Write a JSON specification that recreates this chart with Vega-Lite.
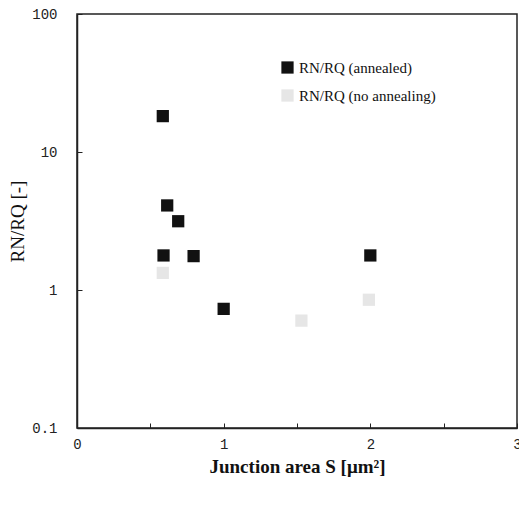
{
  "$schema": "https://vega.github.io/schema/vega-lite/v6.json",
  "autosize": {"type": "none"},
  "padding": {"left": 77, "top": 14, "right": 2, "bottom": 82},
  "width": 440,
  "height": 414,
  "background": "white",
  "config": {
    "view": {"stroke": "#222", "strokeWidth": 1.5},
    "axis": {"grid": false, "domainColor": "#222", "domainWidth": 1.5, "tickColor": "#222"}
  },
  "data": {
    "values": [
      {"S": 0.585, "ratio": 18.2, "series": "RN/RQ (annealed)"},
      {"S": 0.615, "ratio": 4.1, "series": "RN/RQ (annealed)"},
      {"S": 0.69, "ratio": 3.15, "series": "RN/RQ (annealed)"},
      {"S": 0.59, "ratio": 1.78, "series": "RN/RQ (annealed)"},
      {"S": 0.795, "ratio": 1.76, "series": "RN/RQ (annealed)"},
      {"S": 1.0, "ratio": 0.73, "series": "RN/RQ (annealed)"},
      {"S": 2.0, "ratio": 1.78, "series": "RN/RQ (annealed)"},
      {"S": 0.585, "ratio": 1.33, "series": "RN/RQ (no annealing)"},
      {"S": 1.53, "ratio": 0.6, "series": "RN/RQ (no annealing)"},
      {"S": 1.99, "ratio": 0.85, "series": "RN/RQ (no annealing)"}
    ]
  },
  "mark": {"type": "point", "shape": "square", "filled": true, "size": 150, "opacity": 1},
  "encoding": {
    "x": {
      "field": "S", "type": "quantitative",
      "scale": {"domain": [0, 3], "nice": false},
      "axis": {
        "title": "Junction area S [μm²]",
        "titleFont": "Liberation Serif", "titleFontSize": 19, "titleFontWeight": "bold", "titleColor": "#111",
        "titlePadding": 6,
        "values": [0, 0.5, 1, 1.5, 2, 2.5, 3],
        "labelExpr": "datum.value % 1 === 0 ? format(datum.value, 'd') : ''",
        "labelFont": "Liberation Mono", "labelFontSize": 14, "labelColor": "#222",
        "tickSize": -5, "labelPadding": 14, "labelFlush": false
      }
    },
    "y": {
      "field": "ratio", "type": "quantitative",
      "scale": {"type": "log", "domain": [0.1, 100], "nice": false},
      "axis": {
        "title": "RN/RQ [-]",
        "titleFont": "Liberation Serif", "titleFontSize": 19, "titleFontWeight": "normal", "titleColor": "#111",
        "titlePadding": 4,
        "values": [0.1, 1, 10, 100],
        "labelExpr": "datum.value === 0.1 ? '0.1' : format(datum.value, 'd')",
        "labelFont": "Liberation Mono", "labelFontSize": 14, "labelColor": "#222",
        "tickSize": -5, "labelPadding": 25
      }
    },
    "color": {
      "field": "series", "type": "nominal",
      "scale": {"domain": ["RN/RQ (annealed)", "RN/RQ (no annealing)"], "range": ["#111111", "#e6e6e6"]},
      "legend": {
        "title": null, "orient": "none", "legendX": 203, "legendY": 46,
        "symbolType": "square", "symbolSize": 150, "symbolOpacity": 1,
        "labelFont": "Liberation Serif", "labelFontSize": 15, "labelColor": "#111",
        "rowPadding": 12, "labelOffset": 4
      }
    }
  }
}
